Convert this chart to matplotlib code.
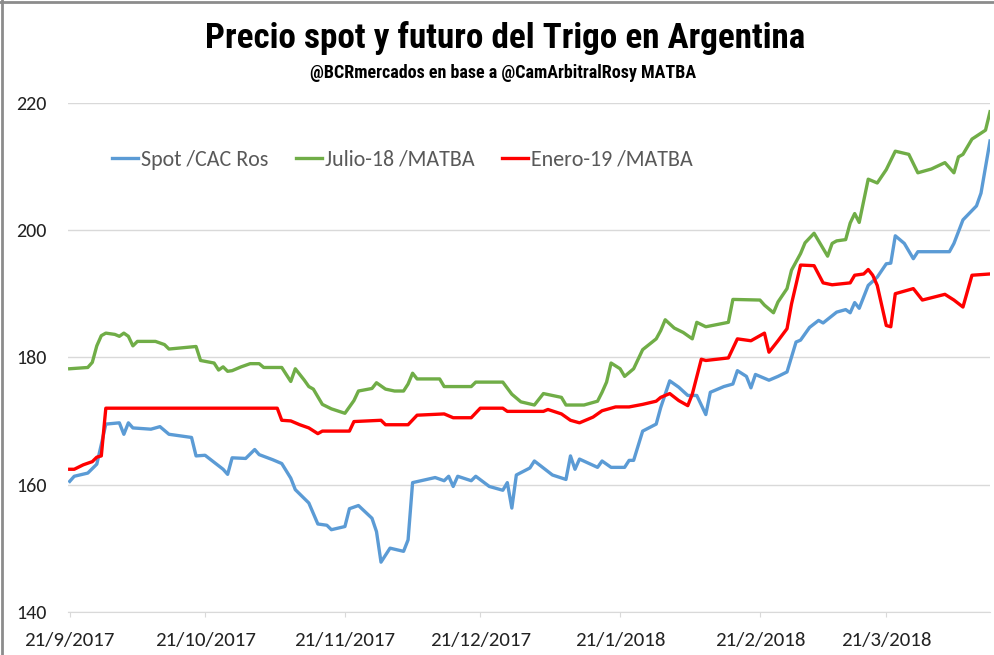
import pandas as pd
import matplotlib.pyplot as plt
from matplotlib.lines import Line2D

# Spot /CAC Ros
fechas_spot = ["2017-09-21", "2017-09-22", "2017-09-25", "2017-09-27", "2017-09-28", "2017-09-29",
               "2017-10-02", "2017-10-03", "2017-10-04", "2017-10-05", "2017-10-09", "2017-10-11",
               "2017-10-13", "2017-10-18", "2017-10-19", "2017-10-21", "2017-10-25", "2017-10-26",
               "2017-10-27", "2017-10-30", "2017-11-01", "2017-11-02", "2017-11-05", "2017-11-07",
               "2017-11-09", "2017-11-10", "2017-11-13", "2017-11-15", "2017-11-17", "2017-11-18",
               "2017-11-21", "2017-11-22", "2017-11-24", "2017-11-27", "2017-11-28", "2017-11-29",
               "2017-12-01", "2017-12-04", "2017-12-05", "2017-12-06", "2017-12-11", "2017-12-13",
               "2017-12-14", "2017-12-15", "2017-12-16", "2017-12-19", "2017-12-20", "2017-12-23",
               "2017-12-26", "2017-12-27", "2017-12-28", "2017-12-29", "2018-01-01", "2018-01-02",
               "2018-01-06", "2018-01-09", "2018-01-10", "2018-01-11", "2018-01-12", "2018-01-16",
               "2018-01-17", "2018-01-19", "2018-01-22", "2018-01-23", "2018-01-24", "2018-01-26",
               "2018-01-29", "2018-01-30", "2018-02-01", "2018-02-03", "2018-02-05", "2018-02-07",
               "2018-02-09", "2018-02-10", "2018-02-13", "2018-02-15", "2018-02-16", "2018-02-18",
               "2018-02-19", "2018-02-20", "2018-02-23", "2018-02-25", "2018-02-27", "2018-03-01",
               "2018-03-02", "2018-03-04", "2018-03-06", "2018-03-07", "2018-03-10", "2018-03-12",
               "2018-03-13", "2018-03-14", "2018-03-15", "2018-03-17", "2018-03-19", "2018-03-21",
               "2018-03-22", "2018-03-23", "2018-03-25", "2018-03-27", "2018-03-28", "2018-04-04",
               "2018-04-05", "2018-04-07", "2018-04-10", "2018-04-11", "2018-04-13"]
spot = [160.5, 161.3, 161.8, 163.2, 166.3, 169.5,
        169.7, 167.9, 169.7, 168.9, 168.7, 169.1,
        167.9, 167.4, 164.5, 164.6, 162.4, 161.6,
        164.2, 164.1, 165.5, 164.7, 163.9, 163.3,
        161.0, 159.2, 157.1, 153.8, 153.6, 152.9,
        153.4, 156.2, 156.7, 154.7, 152.6, 147.8,
        150.0, 149.5, 151.3, 160.3, 161.1, 160.6,
        161.3, 159.7, 161.3, 160.6, 161.3, 159.7,
        159.1, 160.3, 156.3, 161.5, 162.6, 163.7,
        161.5, 160.8, 164.5, 162.4, 164.0, 162.7,
        163.7, 162.7, 162.7, 163.8, 163.8, 168.4,
        169.5, 172.1, 176.3, 175.3, 174.0, 174.0,
        171.0, 174.5, 175.4, 175.8, 177.9, 177.0,
        175.2, 177.3, 176.4, 177.0, 177.7, 182.4,
        182.7, 184.7, 185.8, 185.4, 187.1, 187.5,
        187.0, 188.6, 187.7, 191.3, 192.6, 194.7,
        194.8, 199.1, 197.9, 195.5, 196.6, 196.6,
        197.9, 201.6, 203.8, 205.8, 214.0]

# Julio-18 /MATBA
fechas_jul = ["2017-09-21", "2017-09-25", "2017-09-26", "2017-09-27", "2017-09-28", "2017-09-29",
              "2017-10-01", "2017-10-02", "2017-10-03", "2017-10-04", "2017-10-05", "2017-10-06",
              "2017-10-10", "2017-10-12", "2017-10-13", "2017-10-16", "2017-10-19", "2017-10-20",
              "2017-10-23", "2017-10-24", "2017-10-25", "2017-10-26", "2017-10-27", "2017-10-29",
              "2017-10-31", "2017-11-02", "2017-11-03", "2017-11-07", "2017-11-09", "2017-11-10",
              "2017-11-12", "2017-11-13", "2017-11-14", "2017-11-16", "2017-11-18", "2017-11-21",
              "2017-11-23", "2017-11-24", "2017-11-27", "2017-11-28", "2017-11-30", "2017-12-02",
              "2017-12-04", "2017-12-05", "2017-12-06", "2017-12-07", "2017-12-12", "2017-12-13",
              "2017-12-19", "2017-12-20", "2017-12-26", "2017-12-28", "2017-12-30", "2018-01-02",
              "2018-01-04", "2018-01-06", "2018-01-08", "2018-01-09", "2018-01-13", "2018-01-16",
              "2018-01-17", "2018-01-18", "2018-01-19", "2018-01-21", "2018-01-22", "2018-01-24",
              "2018-01-26", "2018-01-29", "2018-01-30", "2018-01-31", "2018-02-02", "2018-02-04",
              "2018-02-06", "2018-02-07", "2018-02-09", "2018-02-14", "2018-02-15", "2018-02-21",
              "2018-02-22", "2018-02-24", "2018-02-25", "2018-02-27", "2018-02-28", "2018-03-02",
              "2018-03-03", "2018-03-05", "2018-03-08", "2018-03-09", "2018-03-10", "2018-03-12",
              "2018-03-13", "2018-03-14", "2018-03-15", "2018-03-17", "2018-03-19", "2018-03-21",
              "2018-03-23", "2018-03-26", "2018-03-28", "2018-03-31", "2018-04-03", "2018-04-05",
              "2018-04-06", "2018-04-07", "2018-04-09", "2018-04-12", "2018-04-13"]
julio = [178.2, 178.4, 179.2, 181.8, 183.4, 183.8,
         183.6, 183.3, 183.8, 183.3, 181.8, 182.5,
         182.5, 182.0, 181.3, 181.5, 181.7, 179.5,
         179.1, 178.0, 178.5, 177.8, 177.9, 178.5,
         179.0, 179.0, 178.4, 178.4, 176.2, 178.2,
         176.4, 175.4, 175.0, 172.6, 171.9, 171.2,
         173.2, 174.7, 175.1, 176.0, 175.0, 174.7,
         174.7, 175.8, 177.5, 176.6, 176.6, 175.4,
         175.4, 176.1, 176.1, 174.2, 173.0, 172.5,
         174.3, 174.0, 173.7, 172.5, 172.5, 173.1,
         174.5, 176.1, 179.1, 178.2, 177.0, 178.2,
         181.2, 182.9, 184.2, 185.9, 184.6, 183.9,
         182.9, 185.5, 184.8, 185.5, 189.1, 189.0,
         188.2, 187.0, 188.7, 190.8, 193.7, 196.3,
         198.0, 199.5, 195.9, 197.9, 198.3, 198.5,
         201.1, 202.6, 201.2, 208.0, 207.4, 209.5,
         212.4, 211.9, 209.0, 209.6, 210.6, 209.0,
         211.5, 211.9, 214.3, 215.7, 218.6]

# Enero-19 /MATBA
fechas_ene = ["2017-09-21", "2017-09-22", "2017-09-24", "2017-09-26", "2017-09-27", "2017-09-28",
              "2017-09-29", "2017-11-06", "2017-11-07", "2017-11-09", "2017-11-11", "2017-11-13",
              "2017-11-15", "2017-11-16", "2017-11-22", "2017-11-23", "2017-11-29", "2017-11-30",
              "2017-12-05", "2017-12-07", "2017-12-13", "2017-12-15", "2017-12-19", "2017-12-21",
              "2017-12-26", "2017-12-27", "2018-01-04", "2018-01-05", "2018-01-08", "2018-01-10",
              "2018-01-11", "2018-01-12", "2018-01-15", "2018-01-17", "2018-01-20", "2018-01-23",
              "2018-01-26", "2018-01-29", "2018-01-30", "2018-02-01", "2018-02-03", "2018-02-05",
              "2018-02-06", "2018-02-08", "2018-02-09", "2018-02-14", "2018-02-16", "2018-02-19",
              "2018-02-22", "2018-02-23", "2018-02-25", "2018-02-27", "2018-02-28", "2018-03-02",
              "2018-03-05", "2018-03-07", "2018-03-09", "2018-03-13", "2018-03-14", "2018-03-16",
              "2018-03-17", "2018-03-18", "2018-03-19", "2018-03-21", "2018-03-22", "2018-03-23",
              "2018-03-27", "2018-03-29", "2018-04-03", "2018-04-05", "2018-04-07", "2018-04-09",
              "2018-04-13"]
enero = [162.4, 162.4, 163.1, 163.6, 164.3, 164.5,
         172.0, 172.0, 170.1, 170.0, 169.4, 168.9,
         168.0, 168.4, 168.4, 169.9, 170.1, 169.4,
         169.4, 170.9, 171.1, 170.5, 170.5, 172.0,
         172.0, 171.5, 171.5, 171.8, 171.1, 170.1,
         169.9, 169.7, 170.6, 171.6, 172.2, 172.2,
         172.6, 173.1, 173.7, 174.3, 173.2, 172.4,
         174.2, 179.7, 179.5, 179.9, 182.9, 182.6,
         183.8, 180.8, 182.6, 184.5, 188.4, 194.5,
         194.4, 191.7, 191.4, 191.7, 192.9, 193.1,
         193.8, 192.9, 191.3, 185.0, 184.8, 190.0,
         190.8, 189.0, 189.9, 189.0, 187.9, 192.9,
         193.1]

ticks_x = ["2017-09-21", "2017-10-21", "2017-11-21", "2017-12-21", "2018-01-21", "2018-02-21", "2018-03-21"]
etiquetas_x = ["21/9/2017", "21/10/2017", "21/11/2017", "21/12/2017", "21/1/2018", "21/2/2018", "21/3/2018"]

fuente_titulo = ["Roboto Condensed", "Saira SemiCondensed", "Liberation Sans"]
fuente_ejes = ["Carlito", "Liberation Sans Narrow", "Roboto Condensed", "Liberation Sans"]

fig = plt.figure(figsize=(9.95, 6.55), dpi=100)
ax = fig.add_axes([0.068, 0.066, 0.927, 0.777])

ax.plot(pd.to_datetime(fechas_spot), spot, color="#5B9BD5", lw=2.4, label="Spot /CAC Ros")
ax.plot(pd.to_datetime(fechas_jul), julio, color="#70AD47", lw=2.4, label="Julio-18 /MATBA")
ax.plot(pd.to_datetime(fechas_ene), enero, color="#FF0000", lw=2.4, label="Enero-19 /MATBA")

inicio = pd.Timestamp("2017-09-21")
ax.set_xlim(inicio - pd.Timedelta(hours=11), inicio + pd.Timedelta(days=204))
ax.set_ylim(140, 220)
ax.set_yticks([140, 160, 180, 200, 220])
ax.set_xticks(pd.to_datetime(ticks_x))
ax.set_xticklabels(etiquetas_x)

ax.grid(axis="y", color="#D9D9D9", lw=1)
ax.set_axisbelow(True)
for s in ["top", "right", "left"]:
    ax.spines[s].set_visible(False)
ax.spines["bottom"].set_color("#D9D9D9")
ax.tick_params(axis="y", length=0, pad=15, labelsize=14.5, labelcolor="#222222")
ax.tick_params(axis="x", length=3.5, color="#D9D9D9", pad=11, labelsize=15, labelcolor="#222222")
for lab in ax.get_xticklabels() + ax.get_yticklabels():
    lab.set_family(fuente_ejes)

ax.legend(loc="center left", bbox_to_anchor=(0.036, 0.888), ncol=3, frameon=False,
          borderpad=0, handlelength=1.2, columnspacing=1.22, handletextpad=0.15,
          prop={"family": fuente_ejes, "size": 15.8}, labelcolor="#595959")

fig.text(0.508, 0.942, "Precio spot y futuro del Trigo en Argentina", ha="center", va="center",
         family=fuente_titulo, weight="bold", size=25.3)
fig.text(0.506, 0.889, "@BCRmercados en base a @CamArbitralRosy MATBA", ha="center", va="center",
         family=fuente_titulo, weight="bold", size=13)

# marco de la captura
fig.add_artist(Line2D([0, 1], [0.997, 0.997], transform=fig.transFigure, color="#8C8C8C", lw=2))
fig.add_artist(Line2D([0.002, 0.002], [0, 1], transform=fig.transFigure, color="#8C8C8C", lw=2))

fig.savefig("out.png", dpi=100)
